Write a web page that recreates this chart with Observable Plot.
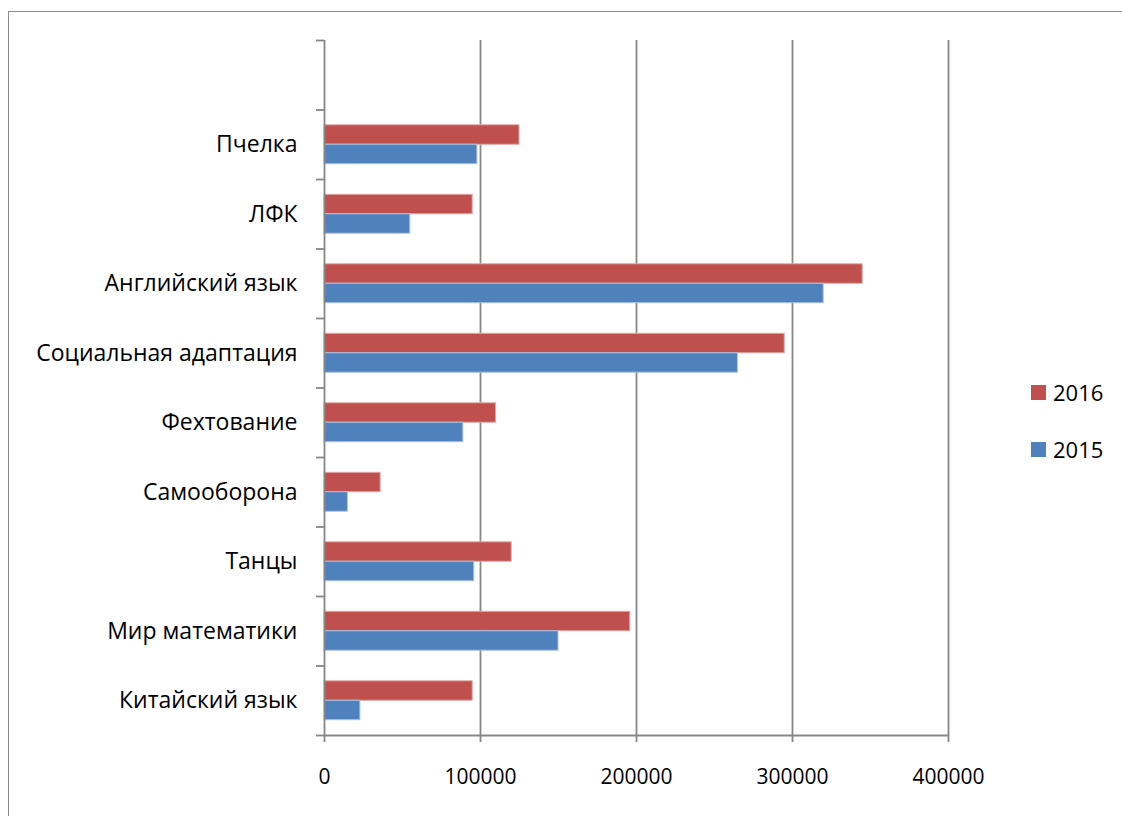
<!DOCTYPE html>
<html>
<head>
<meta charset="utf-8">
<script src="https://cdn.jsdelivr.net/npm/d3@7"></script>
<script src="https://cdn.jsdelivr.net/npm/@observablehq/plot@0.6"></script>
<style>
  html, body { margin: 0; padding: 0; background: #fff; }
  #wrap { position: relative; width: 1122px; height: 816px; overflow: hidden; }
  #frame { position: absolute; left: 8px; top: 11px; width: 1200px; height: 900px; border: 1.5px solid #8c8c8c; box-sizing: border-box; }
  #chart { position: absolute; left: 0; top: 0; }
  #legend { position: absolute; left: 1031px; top: 380px; font-family: "Open Sans", sans-serif; font-size: 22px; color: #000; }
  .item { display: flex; align-items: center; height: 24px; margin-bottom: 33px; }
  .sw { width: 15px; height: 15px; margin-right: 7px; }
</style>
</head>
<body>
<div id="wrap">
  <div id="frame"></div>
  <div id="chart"></div>
  <div id="legend"></div>
</div>
<script>
// categories from bottom to top; the top slot is empty in the original
const categories = ["Китайский язык", "Мир математики", "Танцы", "Самооборона", "Фехтование",
  "Социальная адаптация", "Английский язык", "ЛФК", "Пчелка", ""];
const values2015 = [23000, 150000, 96000, 15000, 89000, 265000, 320000, 55000, 98000];
const values2016 = [95000, 196000, 120000, 36000, 110000, 295000, 345000, 95000, 125000];
const seriesNames = ["2016", "2015"];
const seriesColors = ["#C0504D", "#4F81BD"];
const seriesStrokes = ["#e0a8a6", "#a9c2e3"];
const xTicks = [0, 100000, 200000, 300000, 400000];

const half = 0.28; // bar thickness as share of a category slot
const rows = [];
values2016.forEach((v, i) => rows.push({series: "2016", value: v, y1: i + 0.5, y2: i + 0.5 + half}));
values2015.forEach((v, i) => rows.push({series: "2015", value: v, y1: i + 0.5 - half, y2: i + 0.5}));

const gray = "#878787";
const boundaries = d3.range(0, categories.length + 1);
const centers = categories.map((c, i) => i + 0.5).filter((d, i) => categories[i] !== "");

const chart = Plot.plot({
  width: 1122,
  height: 816,
  marginLeft: 324,
  marginRight: 174,
  marginTop: 40,
  marginBottom: 81,
  style: {fontFamily: "Open Sans, sans-serif", fontSize: "21px", color: "#000", background: "transparent", overflow: "visible"},
  x: {domain: [0, 400000], label: null},
  y: {domain: [0, categories.length], label: null},
  color: {domain: seriesNames, range: seriesColors},
  marks: [
    Plot.ruleX(xTicks.slice(1), {stroke: gray, strokeWidth: 1.8}),
    Plot.rectX(rows, {x1: 0, x2: "value", y1: "y1", y2: "y2", fill: "series",
      stroke: d => seriesStrokes[seriesNames.indexOf(d.series)], strokeWidth: 1}),
    Plot.ruleX([0], {stroke: gray, strokeWidth: 1.8}),
    Plot.ruleY([0], {stroke: gray, strokeWidth: 1.8}),
    Plot.axisX({ticks: xTicks, tickFormat: d => String(d), tickSize: 7, tickPadding: 27,
      stroke: gray, strokeWidth: 1.8, fontSize: 21, label: null}),
    Plot.axisY({ticks: boundaries, tickFormat: () => "", tickSize: 8, stroke: gray, strokeWidth: 1.8, label: null}),
    Plot.axisY({ticks: centers, tickFormat: d => categories[Math.floor(d)], tickSize: 0, tickPadding: 27, fontSize: 23, label: null})
  ]
});
document.getElementById("chart").appendChild(chart);

const legend = document.getElementById("legend");
seriesNames.forEach((name, i) => {
  const item = document.createElement("div");
  item.className = "item";
  const sw = document.createElement("div");
  sw.className = "sw";
  sw.style.background = seriesColors[i];
  const label = document.createElement("span");
  label.textContent = name;
  item.appendChild(sw);
  item.appendChild(label);
  legend.appendChild(item);
});
</script>
</body>
</html>
